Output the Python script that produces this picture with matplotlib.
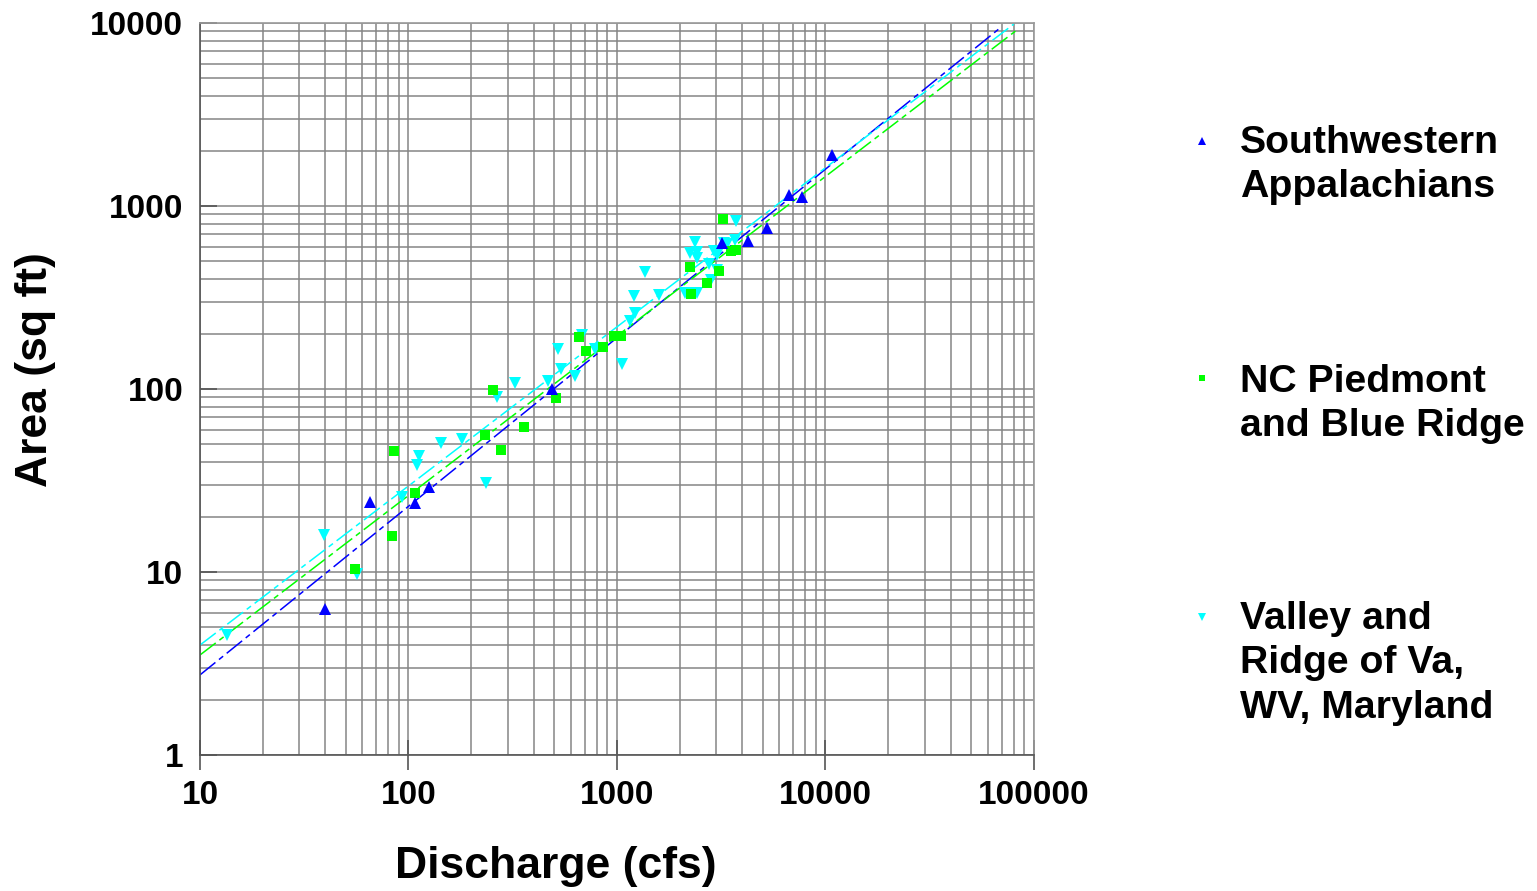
import numpy as np
import matplotlib
matplotlib.use("Agg")
import matplotlib.pyplot as plt
from matplotlib.lines import Line2D

plt.rcParams['font.family'] = ['Liberation Sans', 'DejaVu Sans']
plt.rcParams['font.weight'] = 'bold'

# --- data ---
# Southwestern Appalachians
swa_q = [39.8, 65.3, 107, 125, 488, 3190, 4250, 5240, 6680, 7710, 10740]
swa_a = [6.28, 24.1, 23.8, 29.1, 100, 628, 644, 758, 1148, 1120, 1900]

# NC Piedmont and Blue Ridge
ncp_q = [55.4, 83.3, 85.1, 107, 233, 254, 278, 358, 510, 657, 710, 857,
         968, 1045, 2240, 2265, 2700, 3085, 3223, 3520, 3720]
ncp_a = [10.4, 15.7, 45.8, 27.0, 56.1, 98.8, 46.4, 62.0, 89.3, 192, 161, 170,
         195, 195, 464, 330, 380, 441, 849, 568, 575]

# Valley and Ridge of Va, WV, Maryland
vr_q = [13.5, 39.4, 56.6, 93.1, 110, 112, 143, 181, 236, 266, 324, 467, 521,
        539, 629, 680, 784, 1056, 1155, 1220, 1207, 1363, 1590, 2118, 2290,
        2420, 2240, 2366, 2420, 2420, 2762, 2918, 3017, 3017, 2826, 3258,
        3370, 3685, 3720]
vr_a = [4.53, 15.9, 9.75, 25.7, 38.4, 43.1, 50.7, 53.3, 30.6, 90.4, 108, 111,
        166, 129, 118, 197, 166, 137, 235, 260, 322, 436, 326, 335, 335,
        335, 553, 636, 561, 520, 482, 568, 540, 447, 394, 628, 620, 652, 828]

# power-law trend lines (end points)
swa_fit_q = [10, 68700]
swa_fit_a = [2.74, 9390]
ncp_fit_q = [10, 82800]
ncp_fit_a = [3.52, 9160]
vr_fit_q = [10, 80100]
vr_fit_a = [3.99, 9880]

labels = ['Southwestern\nAppalachians',
          'NC Piedmont\nand Blue Ridge',
          'Valley and\nRidge of Va,\nWV, Maryland']

blue = '#0000ff'
green = '#00ff00'
cyan = '#00ffff'
dash = (0, (13, 3, 3.5, 3))

fig = plt.figure(figsize=(15.37, 8.91), dpi=100)
ax = fig.add_axes([0.1301, 0.1526, 0.5426, 0.8215])
ax.set_xscale('log')
ax.set_yscale('log')
ax.set_xlim(10, 100000)
ax.set_ylim(1, 10000)

ax.grid(True, which='both', color='#858585', linewidth=1.1, zorder=0)
ax.set_axisbelow(True)

# trend lines
ax.plot(swa_fit_q, swa_fit_a, color=blue, lw=1.1, linestyle=dash, zorder=2)
ax.plot(ncp_fit_q, ncp_fit_a, color=green, lw=1.1, linestyle=dash, zorder=2)
ax.plot(vr_fit_q, vr_fit_a, color=cyan, lw=1.1, linestyle=dash, zorder=2)

# points
ax.plot(vr_q, vr_a, 'v', color=cyan, ms=8, mew=0, zorder=3)
ax.plot(ncp_q, ncp_a, 's', color=green, ms=6.5, mew=0, zorder=4)
ax.plot(swa_q, swa_a, '^', color=blue, ms=8, mew=0, zorder=5)

ax.set_xticks([10, 100, 1000, 10000, 100000])
ax.set_xticklabels(['10', '100', '1000', '10000', '100000'])
ax.set_yticks([1, 10, 100, 1000, 10000])
ax.set_yticklabels(['1', '10', '100', '1000', '10000'])
ax.tick_params(axis='x', which='major', direction='inout', length=22,
               width=1.2, color='#555555', pad=7, labelsize=24)
ax.tick_params(axis='y', which='major', direction='in', length=12,
               width=1.2, color='#555555', pad=12, labelsize=24)
ax.tick_params(which='minor', length=0)
for lab in ax.get_xticklabels() + ax.get_yticklabels():
    lab.set_fontweight('bold')

for side in ['top', 'right']:
    ax.spines[side].set_color('#9a9a9a')
    ax.spines[side].set_linewidth(1.2)
for side in ['left', 'bottom']:
    ax.spines[side].set_color('#555555')
    ax.spines[side].set_linewidth(1.2)

fig.text(0.3617, 0.028, 'Discharge (cfs)', ha='center', va='center',
         fontsize=32, fontweight='bold')
fig.text(0.0228, 0.5847, 'Area (sq ft)', ha='center', va='center',
         rotation=90, fontsize=32, fontweight='bold')

# legend drawn by hand on the right
key_styles = [('^', blue, 5.5), ('s', green, 5.0), ('v', cyan, 5.5)]
text_tops = [125, 364, 601]
key_ys = [141, 378, 617]
for (m, c, s), lab, ty, ky in zip(key_styles, labels, text_tops, key_ys):
    fig.add_artist(Line2D([1202 / 1537], [1 - ky / 891], marker=m, color=c,
                          ms=s, mew=0, linestyle='none',
                          transform=fig.transFigure))
    fig.text(1240 / 1537, 1 - ty / 891, lab, ha='left', va='top',
             fontsize=28.3, fontweight='bold', linespacing=1.3)

fig.savefig('out.png', dpi=100)
